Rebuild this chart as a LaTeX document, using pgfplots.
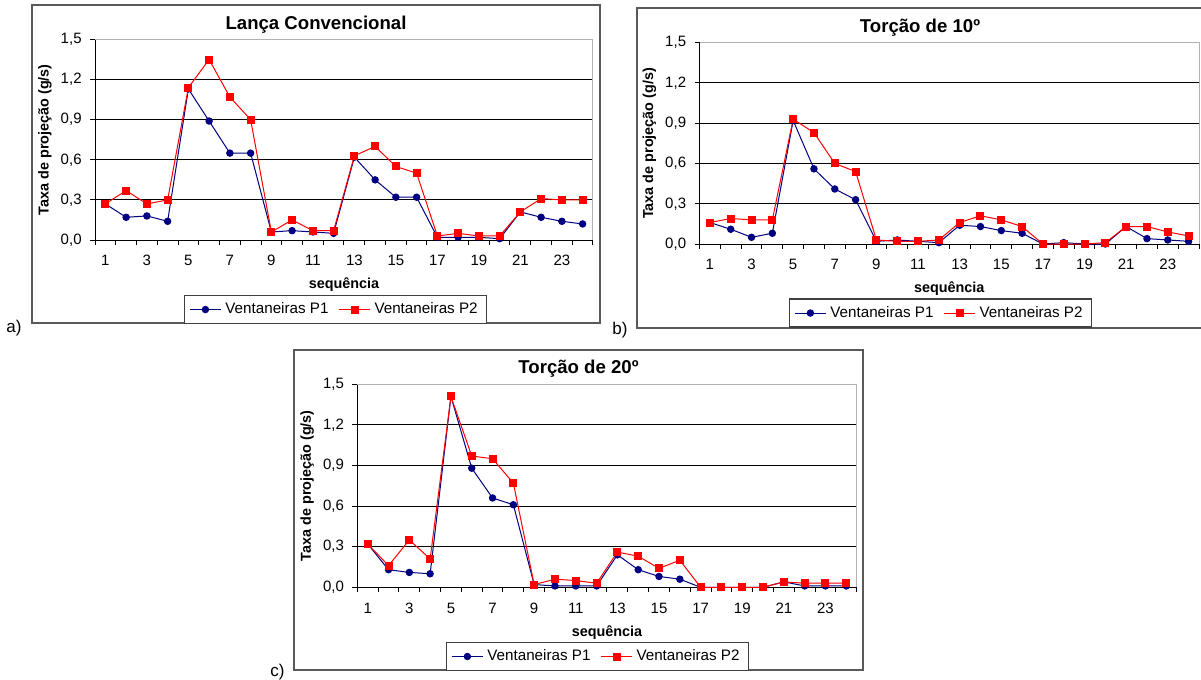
\documentclass[border=0pt]{standalone}
\usepackage{pgfplots}
\usepackage{pgfplotstable}
\pgfplotsset{compat=1.18}
\usepackage{fontspec}
\setmainfont{Liberation Sans}
\definecolor{pone}{RGB}{0,0,128}
\definecolor{ptwo}{RGB}{255,0,0}

\pgfplotstableread{
x p1 p2
1 0.27 0.27
2 0.17 0.37
3 0.18 0.27
4 0.14 0.30
5 1.13 1.14
6 0.89 1.35
7 0.65 1.07
8 0.65 0.90
9 0.06 0.06
10 0.07 0.15
11 0.06 0.07
12 0.05 0.07
13 0.62 0.63
14 0.45 0.70
15 0.32 0.55
16 0.32 0.50
17 0.02 0.03
18 0.02 0.05
19 0.02 0.03
20 0.01 0.03
21 0.21 0.21
22 0.17 0.31
23 0.14 0.30
24 0.12 0.30
}\dataA

\pgfplotstableread{
x p1 p2
1 0.16 0.16
2 0.11 0.19
3 0.05 0.18
4 0.08 0.18
5 0.92 0.93
6 0.56 0.83
7 0.41 0.60
8 0.33 0.54
9 0.02 0.03
10 0.03 0.02
11 0.02 0.02
12 0.01 0.03
13 0.14 0.16
14 0.13 0.21
15 0.10 0.18
16 0.08 0.13
17 0.00 0.00
18 0.01 0.00
19 0.00 0.00
20 0.00 0.01
21 0.13 0.13
22 0.04 0.13
23 0.03 0.09
24 0.02 0.06
}\dataB

\pgfplotstableread{
x p1 p2
1 0.32 0.32
2 0.13 0.16
3 0.11 0.35
4 0.10 0.21
5 1.41 1.41
6 0.88 0.97
7 0.66 0.95
8 0.61 0.77
9 0.02 0.02
10 0.01 0.06
11 0.01 0.05
12 0.01 0.03
13 0.24 0.26
14 0.13 0.23
15 0.08 0.14
16 0.06 0.20
17 0.00 0.00
18 0.00 0.00
19 0.00 0.00
20 0.00 0.00
21 0.04 0.04
22 0.01 0.03
23 0.01 0.03
24 0.01 0.03
}\dataC

\pgfplotsset{
  mychart/.style={
    scale only axis, anchor=south west, clip=false,
    xmin=0.5, xmax=24.5, ymin=0, ymax=1.5,
    axis x line*=bottom, axis y line*=left,
    axis line style={black, line width=0.5pt},
    tick align=outside, major tick length=2.5pt,
    tick style={black, line width=0.5pt},
    xtick={0.5,1.5,...,24.5}, xticklabels={},
    extra x ticks={1,3,...,23},
    extra x tick labels={1,3,5,7,9,11,13,15,17,19,21,23},
    extra x tick style={major tick length=0pt, grid=none},
    ytick={0,0.3,0.6,0.9,1.2},
    yticklabels={0{,}0,0{,}3,0{,}6,0{,}9,1{,}2},
    extra y ticks={1.5}, extra y tick labels={1{,}5},
    extra y tick style={grid=none},
    ymajorgrids, major grid style={black, line width=0.5pt},
    tick label style={font=\fontsize{7.5}{9}\selectfont, black},
    yticklabel style={anchor=east, inner sep=0pt, xshift=-4pt},
    xticklabel style={anchor=north, inner sep=0pt, yshift=-7.5pt},
    legend columns=2,
    legend style={anchor=center, draw=black!75, line width=0.6pt,
      font=\fontsize{7.6}{9}\selectfont, inner xsep=2.5pt, inner ysep=1.5pt,
      /tikz/every even column/.append style={column sep=3pt}},
    legend image code/.code={\draw[mark repeat=2,mark phase=2,##1] plot coordinates {(0pt,0pt) (7.75pt,0pt) (15.5pt,0pt)};},
  },
  pone/.style={color=pone, line width=0.5pt, mark=*, mark size=1.6pt, mark options={fill=pone, draw=pone}},
  ptwo/.style={color=ptwo, line width=0.5pt, mark=square*, mark size=1.75pt, mark options={fill=ptwo, draw=ptwo}},
}
\newcommand\chartdeco{%
  \draw[gray!60, line width=0.5pt] (rel axis cs:0,1) -- (rel axis cs:1,1) -- (rel axis cs:1,0);
  \node[anchor=center, font=\fontsize{7.2}{9}\selectfont\bfseries] at ([yshift=-22.5pt]rel axis cs:0.5,0) {sequência};
  \node[anchor=center, rotate=90, font=\fontsize{7.2}{9}\selectfont\bfseries] at ([xshift=-25pt]rel axis cs:0,0.5) {Taxa de projeção (g/s)};
}

\begin{document}
\begin{tikzpicture}
\path[use as bounding box] (0,0) rectangle (600.5pt,-340pt);
% chart boxes
\draw[black!65, line width=0.6pt] (16pt,-2.5pt) rectangle (300pt,-161.5pt);
\draw[black!65, line width=0.6pt] (318.5pt,-4pt) rectangle (601.5pt,-164pt);
\draw[black!65, line width=0.6pt] (147pt,-175pt) rectangle (431.5pt,-335pt);

% chart a
\begin{axis}[mychart, at={(47.5pt,-120pt)}, width=249pt, height=100.25pt,
  legend style={at={(0.483,-0.347)}}]
\chartdeco
\addplot[pone] table[x=x,y=p1] {\dataA};
\addplot[ptwo] table[x=x,y=p2] {\dataA};
\legend{Ventaneiras P1, Ventaneiras P2}
\end{axis}

% chart b
\begin{axis}[mychart, at={(349.75pt,-122pt)}, width=249.75pt, height=100.65pt,
  legend style={at={(0.4825,-0.343)}}]
\chartdeco
\addplot[pone] table[x=x,y=p1] {\dataB};
\addplot[ptwo] table[x=x,y=p2] {\dataB};
\legend{Ventaneiras P1, Ventaneiras P2}
\end{axis}

% chart c
\begin{axis}[mychart, at={(178.65pt,-293.65pt)}, width=249.7pt, height=101.5pt,
  legend style={at={(0.481,-0.341)}}]
\chartdeco
\addplot[pone] table[x=x,y=p1] {\dataC};
\addplot[ptwo] table[x=x,y=p2] {\dataC};
\legend{Ventaneiras P1, Ventaneiras P2}
\end{axis}

% titles
\node[anchor=base, font=\fontsize{9.3}{11}\selectfont\bfseries] at (158pt,-14.75pt) {Lança Convencional};
\node[anchor=base, font=\fontsize{9.3}{11}\selectfont\bfseries] at (460pt,-16.25pt) {Torção de 10º};
\node[anchor=base, font=\fontsize{9.3}{11}\selectfont\bfseries] at (289.25pt,-186.75pt) {Torção de 20º};

% panel letters
\node[anchor=base west, inner sep=0pt, font=\fontsize{8.5}{10}\selectfont] at (3pt,-166pt) {a)};
\node[anchor=base west, inner sep=0pt, font=\fontsize{8.5}{10}\selectfont] at (306pt,-167pt) {b)};
\node[anchor=base west, inner sep=0pt, font=\fontsize{8.5}{10}\selectfont] at (135pt,-338pt) {c)};
\end{tikzpicture}
\end{document}
